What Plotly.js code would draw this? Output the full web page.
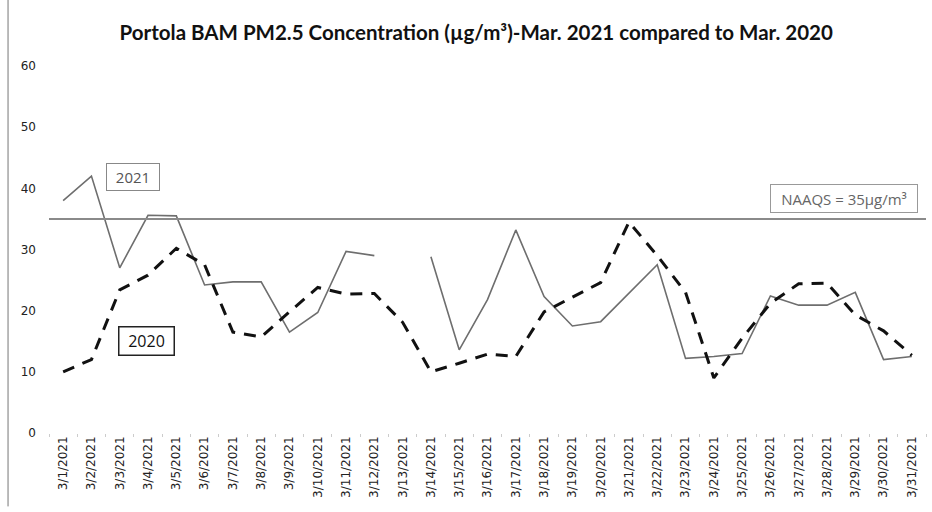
<!DOCTYPE html>
<html>
<head>
<meta charset="utf-8">
<script src="https://cdn.plot.ly/plotly-3.0.1.min.js"></script>
<style>html,body{margin:0;padding:0;background:#fff;}#chart{width:932px;height:512px;}</style>
</head>
<body>
<div id="chart"></div>
<script>
const dates = ["3/1/2021","3/2/2021","3/3/2021","3/4/2021","3/5/2021","3/6/2021","3/7/2021","3/8/2021","3/9/2021","3/10/2021","3/11/2021","3/12/2021","3/13/2021","3/14/2021","3/15/2021","3/16/2021","3/17/2021","3/18/2021","3/19/2021","3/20/2021","3/21/2021","3/22/2021","3/23/2021","3/24/2021","3/25/2021","3/26/2021","3/27/2021","3/28/2021","3/29/2021","3/30/2021","3/31/2021"];
const pm2021 = [38, 42, 27, 35.6, 35.5, 24.2, 24.7, 24.7, 16.5, 19.7, 29.7, 29.0, null, 28.8, 13.6, 21.8, 33.2, 22.3, 17.5, 18.2, 22.8, 27.5, 12.2, 12.5, 13.0, 22.4, 20.9, 20.9, 23.0, 12.0, 12.5];
const pm2020 = [10, 12, 23.4, 25.8, 30.2, 27.5, 16.5, 15.7, 19.8, 23.8, 22.7, 22.8, 18.1, 10.0, 11.4, 12.9, 12.5, 19.8, 22.2, 24.6, 34.5, 29, 23, 9.0, 15.5, 21.2, 24.4, 24.5, 19.3, 16.7, 12.7];
const naaqs = 35;
const yTicks = [0, 10, 20, 30, 40, 50, 60];

const traces = [
  {x: dates, y: pm2021, type: 'scatter', mode: 'lines', name: '2021', connectgaps: false,
   line: {color: '#6e6e6e', width: 1.6}},
  {x: dates, y: pm2020, type: 'scatter', mode: 'lines', name: '2020',
   line: {color: '#111', width: 3, dash: '12px,9px'}}
];

const layout = {
  width: 932, height: 512,
  margin: {l: 49, r: 6, t: 66, b: 79},
  paper_bgcolor: '#fff', plot_bgcolor: '#fff',
  showlegend: false,
  title: {text: 'Portola BAM PM2.5 Concentration (µg/m³)-Mar. 2021 compared to Mar. 2020',
          x: 0.511, xanchor: 'center', y: 0.935, yanchor: 'middle',
          font: {family: 'Lato, "Open Sans", sans-serif', size: 20.5, color: '#111', weight: 'bold'}},
  xaxis: {type: 'category', range: [-0.5, 30.5], showgrid: false, zeroline: false,
          showline: false, ticks: 'outside', ticklen: 3, tickcolor: '#ccc',
          tickson: 'boundaries', tickangle: -90, automargin: false,
          tickfont: {family: '"DejaVu Sans", Verdana, sans-serif', size: 12, color: '#222'}},
  yaxis: {range: [0, 60], tickvals: yTicks, showgrid: false, zeroline: false, showline: false,
          ticks: '', ticklabelstandoff: 12, automargin: false,
          tickfont: {family: '"DejaVu Sans", Verdana, sans-serif', size: 12, color: '#222'}},
  shapes: [
    {type: 'line', xref: 'paper', yref: 'y', x0: 0, x1: 1, y0: naaqs, y1: naaqs,
     line: {color: '#8a8a8a', width: 2}},
    {type: 'line', xref: 'paper', yref: 'paper', x0: -0.0467, x1: -0.0467, y0: -0.2, y1: 1.2,
     line: {color: '#777', width: 1}}
  ],
  annotations: [
    {xref: 'x', yref: 'y', x: 2.46, y: 41.9, text: '2021', showarrow: false,
     font: {family: '"Open Sans", sans-serif', size: 15, color: '#555'},
     bordercolor: '#888', borderwidth: 1, borderpad: 3, bgcolor: '#fff', width: 46, height: 20},
    {xref: 'x', yref: 'y', x: 2.95, y: 15.0, text: '2020', showarrow: false,
     font: {family: '"Open Sans", sans-serif', size: 16, color: '#111'},
     bordercolor: '#222', borderwidth: 1.5, borderpad: 3, bgcolor: '#fff', width: 48, height: 21},
    {xref: 'x', yref: 'y', x: 27.6, y: 38.4, text: 'NAAQS = 35µg/m³', showarrow: false,
     font: {family: '"Open Sans", sans-serif', size: 15, color: '#666'},
     bordercolor: '#999', borderwidth: 1, borderpad: 3, bgcolor: '#fff', width: 140, height: 21}
  ]
};

Plotly.newPlot('chart', traces, layout, {displayModeBar: false, staticPlot: true});
</script>
</body>
</html>
